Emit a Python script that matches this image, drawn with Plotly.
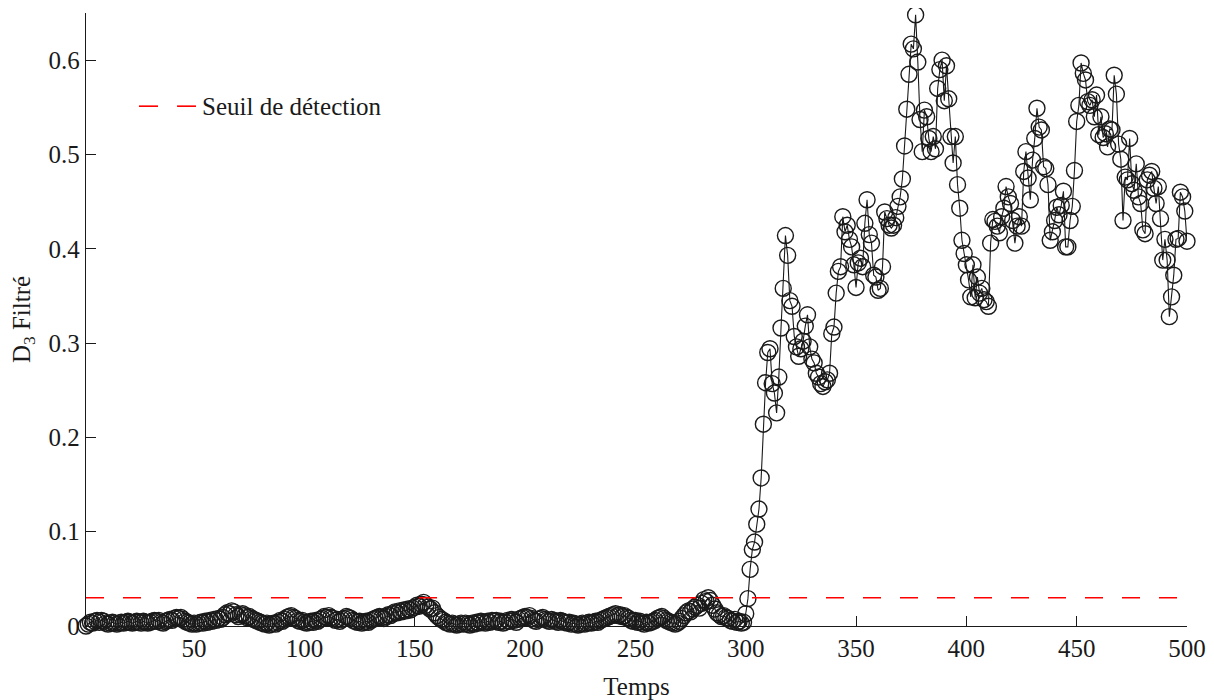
import plotly.graph_objects as go

# D3 filtré, Temps = 1..300 (low regime)
d3_low = [
    0.000, 0.002, 0.004, 0.003, 0.005, 0.006, 0.004, 0.006, 0.005, 0.003,
    0.002, 0.003, 0.004, 0.003, 0.002, 0.003, 0.004, 0.003, 0.004, 0.005,
    0.004, 0.003, 0.004, 0.005, 0.004, 0.003, 0.005, 0.004, 0.003, 0.004,
    0.005, 0.006, 0.005, 0.006, 0.004, 0.003, 0.005, 0.006, 0.007, 0.006,
    0.008, 0.009, 0.008, 0.009, 0.007, 0.005, 0.004, 0.003, 0.002, 0.003,
    0.002, 0.003, 0.004, 0.003, 0.005, 0.004, 0.006, 0.005, 0.007, 0.006,
    0.008, 0.007, 0.009, 0.012, 0.014, 0.013, 0.016, 0.015, 0.012, 0.010,
    0.012, 0.013, 0.011, 0.009, 0.010, 0.008, 0.007, 0.006, 0.005, 0.004,
    0.003, 0.002, 0.003, 0.001, 0.002, 0.003, 0.002, 0.004, 0.006, 0.005,
    0.007, 0.009, 0.010, 0.011, 0.009, 0.008, 0.006, 0.005, 0.006, 0.004,
    0.003, 0.004, 0.005, 0.004, 0.006, 0.005, 0.007, 0.008, 0.010, 0.009,
    0.011, 0.009, 0.008, 0.006, 0.007, 0.005, 0.007, 0.008, 0.010, 0.009,
    0.008, 0.006, 0.005, 0.004, 0.005, 0.003, 0.004, 0.005, 0.004, 0.006,
    0.007, 0.008, 0.009, 0.010, 0.009, 0.008, 0.010, 0.012, 0.011, 0.013,
    0.015, 0.014, 0.016, 0.015, 0.017, 0.016, 0.018, 0.017, 0.019, 0.020,
    0.022, 0.021, 0.023, 0.025, 0.022, 0.020, 0.018, 0.019, 0.014, 0.011,
    0.009, 0.007, 0.006, 0.004, 0.003, 0.002, 0.003, 0.002, 0.001, 0.002,
    0.003, 0.002, 0.003, 0.002, 0.001, 0.003, 0.002, 0.004, 0.003, 0.005,
    0.004, 0.003, 0.005, 0.004, 0.006, 0.005, 0.006, 0.004, 0.005, 0.003,
    0.004, 0.006, 0.005, 0.007, 0.006, 0.004, 0.007, 0.008, 0.009, 0.010,
    0.009, 0.011, 0.008, 0.006, 0.005, 0.007, 0.008, 0.009, 0.007, 0.006,
    0.005, 0.007, 0.006, 0.005, 0.004, 0.006, 0.005, 0.004, 0.003, 0.004,
    0.002, 0.003, 0.002, 0.001, 0.002, 0.003, 0.002, 0.003, 0.004, 0.003,
    0.004, 0.005, 0.004, 0.006, 0.007, 0.008, 0.009, 0.010, 0.011, 0.012,
    0.013, 0.011, 0.012, 0.010, 0.011, 0.009, 0.008, 0.006, 0.005, 0.006,
    0.004, 0.005, 0.003, 0.002, 0.004, 0.003, 0.004, 0.005, 0.006, 0.008,
    0.009, 0.010, 0.008, 0.006, 0.005, 0.004, 0.003, 0.002, 0.003, 0.005,
    0.008, 0.011, 0.014, 0.016, 0.015, 0.018, 0.020, 0.022, 0.019, 0.024,
    0.028, 0.026, 0.030, 0.027, 0.022, 0.018, 0.014, 0.012, 0.010, 0.011,
    0.009, 0.008, 0.006, 0.005, 0.007, 0.004, 0.005, 0.003, 0.004, 0.013,
]

# D3 filtré, Temps = 301..500 (after the change)
d3_high = [
    0.029, 0.060, 0.081, 0.089, 0.108, 0.124, 0.157, 0.214, 0.258, 0.290,
    0.294, 0.257, 0.247, 0.226, 0.264, 0.316, 0.358, 0.414, 0.393, 0.345,
    0.339, 0.307, 0.296, 0.286, 0.294, 0.302, 0.318, 0.330, 0.296, 0.283,
    0.279, 0.268, 0.264, 0.257, 0.254, 0.259, 0.261, 0.268, 0.310, 0.317,
    0.353, 0.376, 0.381, 0.434, 0.418, 0.425, 0.410, 0.402, 0.383, 0.359,
    0.385, 0.390, 0.381, 0.427, 0.452, 0.415, 0.406, 0.372, 0.370, 0.356,
    0.358, 0.381, 0.439, 0.432, 0.425, 0.422, 0.425, 0.433, 0.445, 0.455,
    0.474, 0.509, 0.548, 0.585, 0.617, 0.612, 0.648, 0.598, 0.537, 0.503,
    0.547, 0.540, 0.517, 0.503, 0.519, 0.506, 0.570, 0.590, 0.600, 0.557,
    0.594, 0.559, 0.519, 0.491, 0.519, 0.468, 0.443, 0.409, 0.395, 0.383,
    0.367, 0.349, 0.383, 0.348, 0.370, 0.353, 0.358, 0.346, 0.344, 0.339,
    0.406, 0.431, 0.429, 0.424, 0.417, 0.434, 0.443, 0.466, 0.455, 0.448,
    0.430, 0.406, 0.424, 0.434, 0.424, 0.482, 0.503, 0.475, 0.452, 0.494,
    0.517, 0.549, 0.529, 0.526, 0.487, 0.485, 0.468, 0.409, 0.418, 0.430,
    0.444, 0.436, 0.446, 0.461, 0.402, 0.402, 0.430, 0.445, 0.483, 0.535,
    0.552, 0.597, 0.586, 0.579, 0.556, 0.552, 0.558, 0.540, 0.563, 0.521,
    0.540, 0.518, 0.522, 0.508, 0.527, 0.526, 0.584, 0.564, 0.511, 0.495,
    0.430, 0.476, 0.473, 0.517, 0.469, 0.462, 0.490, 0.455, 0.448, 0.420,
    0.416, 0.473, 0.478, 0.482, 0.464, 0.448, 0.466, 0.432, 0.388, 0.410,
    0.388, 0.328, 0.349, 0.372, 0.410, 0.411, 0.460, 0.455, 0.440, 0.408,
]

seuil = 0.03
seuil_label = "Seuil de détection"
x_ticks = [50, 100, 150, 200, 250, 300, 350, 400, 450, 500]
y_ticks = [0, 0.1, 0.2, 0.3, 0.4, 0.5, 0.6]
y_tick_labels = ["0", "0.1", "0.2", "0.3", "0.4", "0.5", "0.6"]

d3 = d3_low + d3_high
temps = list(range(1, len(d3) + 1))

FONT = "Liberation Serif, Times New Roman, serif"
FS = 25
INK = "#1a1a1a"
RED = "#ff0000"

fig = go.Figure()
fig.add_trace(go.Scatter(
    x=temps, y=d3, mode="lines+markers",
    line=dict(color=INK, width=1.1),
    marker=dict(symbol="circle-open", size=16, color=INK,
                line=dict(width=1.4, color=INK)),
    showlegend=False, cliponaxis=False,
))
fig.add_trace(go.Scatter(
    x=[temps[0], temps[-1]], y=[seuil, seuil], mode="lines",
    line=dict(color=RED, width=1.6, dash="18px,19px"),
    name=seuil_label, showlegend=False,
))

# legend box (MATLAB-style, no frame): two red dashes + label
leg_y = 0.848
for x0, x1 in [(0.0481, 0.0654), (0.0827, 0.0999)]:
    fig.add_shape(type="line", xref="paper", yref="paper",
                  x0=x0, x1=x1, y0=leg_y, y1=leg_y,
                  line=dict(color=RED, width=1.6))
fig.add_annotation(xref="paper", yref="paper", x=0.1035, y=leg_y,
                   xanchor="left", yanchor="middle", showarrow=False,
                   text=seuil_label, font=dict(size=FS, family=FONT, color=INK))

# page body has an 8px margin: figure is sized so the plot area lands
# at x 86..1187, y 13..626 of the window
fig.update_layout(
    width=1206, height=692,
    margin=dict(l=78, r=27, t=5, b=74),
    paper_bgcolor="white", plot_bgcolor="white",
    font=dict(family=FONT, size=FS, color=INK),
    showlegend=False,
    xaxis=dict(
        range=[1, 500], tickvals=x_ticks, ticks="inside", ticklen=10,
        tickcolor=INK, showline=True, linecolor=INK, linewidth=1.3,
        showgrid=False, zeroline=False, mirror=False, automargin=False,
        title=dict(text="Temps", font=dict(size=FS, family=FONT), standoff=18),
        tickfont=dict(size=FS, family=FONT),
    ),
    yaxis=dict(
        range=[0, 0.65], tickvals=y_ticks, ticktext=y_tick_labels,
        ticks="inside", ticklen=10,
        tickcolor=INK, showline=True, linecolor=INK, linewidth=1.3,
        showgrid=False, zeroline=False, mirror=False, automargin=False,
        title=dict(text="D<sub>3</sub> Filtré", font=dict(size=FS, family=FONT), standoff=12),
        tickfont=dict(size=FS, family=FONT),
    ),
)

fig.write_html("out.html")
